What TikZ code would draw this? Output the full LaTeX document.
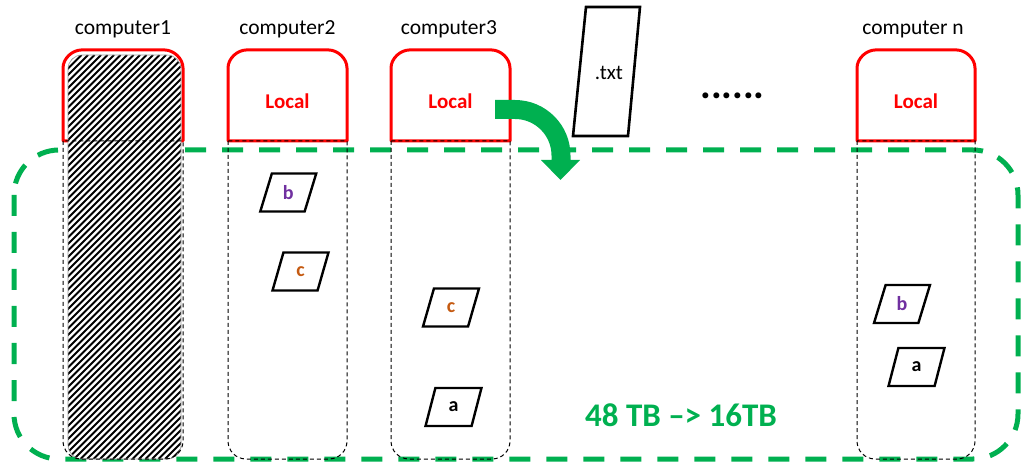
\documentclass[tikz,border=0pt]{standalone}
\usepackage{fontspec}
\setmainfont{Carlito}
\usetikzlibrary{shapes.geometric}
\definecolor{offgreen}{HTML}{00B050}
\definecolor{offred}{HTML}{FF0000}
\definecolor{offpurple}{HTML}{7030A0}
\definecolor{offorange}{HTML}{C55A11}
\newcommand\compbox[2]{%
  \draw[redbox] (#1,141) -- (#1,68) .. controls (#1,58.06) and (#1+9.94,50) .. (#1+18,50)
    -- (#2-18,50) .. controls (#2-9.94,50) and (#2,58.06) .. (#2,68) -- (#2,141) -- cycle;}
\newcommand\colframe[2]{%
  \draw[colline] (#1,141) -- (#1,441) .. controls (#1,450.94) and (#1+8.06,459) .. (#1+18,459)
    -- (#2-18,459) .. controls (#2-8.06,459) and (#2,450.94) .. (#2,441) -- (#2,141) -- cycle;}
\tikzset{
  redbox/.style={draw=offred, line width=3pt, fill=white, line join=round},
  colline/.style={draw=black, line width=1pt, dash pattern=on 4pt off 3pt},
  greenframe/.style={draw=offgreen, line width=5pt, dash pattern=on 21pt off 16pt, rounded corners=45pt},
  complabel/.style={font=\fontsize{21.5}{26}\selectfont, anchor=base, inner sep=0pt},
  localtext/.style={font=\bfseries\fontsize{21}{25}\selectfont, text=offred, anchor=base, inner sep=0pt},
  block/.style={shape=trapezium, trapezium left angle=75, trapezium right angle=105,
    trapezium stretches=true, minimum width=56pt, minimum height=38pt, inner sep=0pt,
    draw=black, line width=2.4pt, fill=white, font=\bfseries\fontsize{20}{24}\selectfont},
  filebox/.style={draw=black, line width=2.6pt, fill=white, line join=miter},
}
\begin{document}
\begin{tikzpicture}[x=1pt, y=-1pt]
\useasboundingbox (0,0) rectangle (1021,465);
% big green dashed frame
\draw[greenframe] (14,150) rectangle (1018,459);
% computer boxes
\compbox{63}{183}
\compbox{228}{347}
\compbox{391}{510}
\compbox{857}{975}
% hatched column of computer1
\fill[white, rounded corners=14pt] (68,55) rectangle (181,459);
\begin{scope}
  \clip[rounded corners=14pt] (68,55) rectangle (181,459);
  \foreach \a in {-342,-335.5,...,190} \draw[line width=2.1pt, black] (\a,459) -- (\a+404,55);
\end{scope}
\draw[black!40, line width=0.6pt, rounded corners=14pt] (68,55) rectangle (181,459);
% column frames
\colframe{63}{183}
\colframe{228}{347}
\colframe{391}{510}
\colframe{857}{975}
% labels
\node[complabel] (l1) at (123,35) {computer1};
\node[complabel] (l2) at (287.5,35) {computer2};
\node[complabel] (l3) at (449,35) {computer3};
\node[complabel] (ln) at (913,35) {computer n};
\node[localtext] (loc2) at (287.5,109) {Local};
\node[localtext] (loc3) at (450.5,109) {Local};
\node[localtext] (locn) at (916,109) {Local};
% green curved arrow
\fill[offgreen] (495,100) -- (515,100) .. controls (545.65,100) and (570.5,124.85) .. (570.5,155.5)
  -- (570.5,160) -- (580,160) -- (560.5,180) -- (541,160) -- (551.5,160) -- (551.5,155.5)
  .. controls (551.5,135.34) and (535.16,119) .. (515,119) -- (495,119) -- cycle;
% txt file
\draw[filebox] (586,7) -- (640,7) -- (628,136) -- (573,136) -- cycle;
\node[font=\fontsize{21}{25}\selectfont, anchor=base, inner sep=0pt] (txt) at (609,80) {.txt};
% dots
\node[font=\bfseries\fontsize{40}{40}\selectfont, anchor=base, inner sep=0pt] (dots) at (732.5,99) {......};
% data blocks
\node[block, text=offpurple] (b2) at (288.25,192.5) {b};
\node[block, text=offorange] (c2) at (300.5,271.5) {c};
\node[block, text=offorange] (c3) at (451,307.5) {c};
\node[block, text=black] (a3) at (453.5,407) {a};
\node[block, text=offpurple] (bn) at (902,304) {b};
\node[block, text=black] (an) at (916.5,367) {a};
% capacity text
\node[font=\bfseries\fontsize{33}{38}\selectfont, text=offgreen, anchor=base, inner sep=0pt] (cap) at (681,426) {48 TB --> 16TB};
\end{tikzpicture}
\end{document}
